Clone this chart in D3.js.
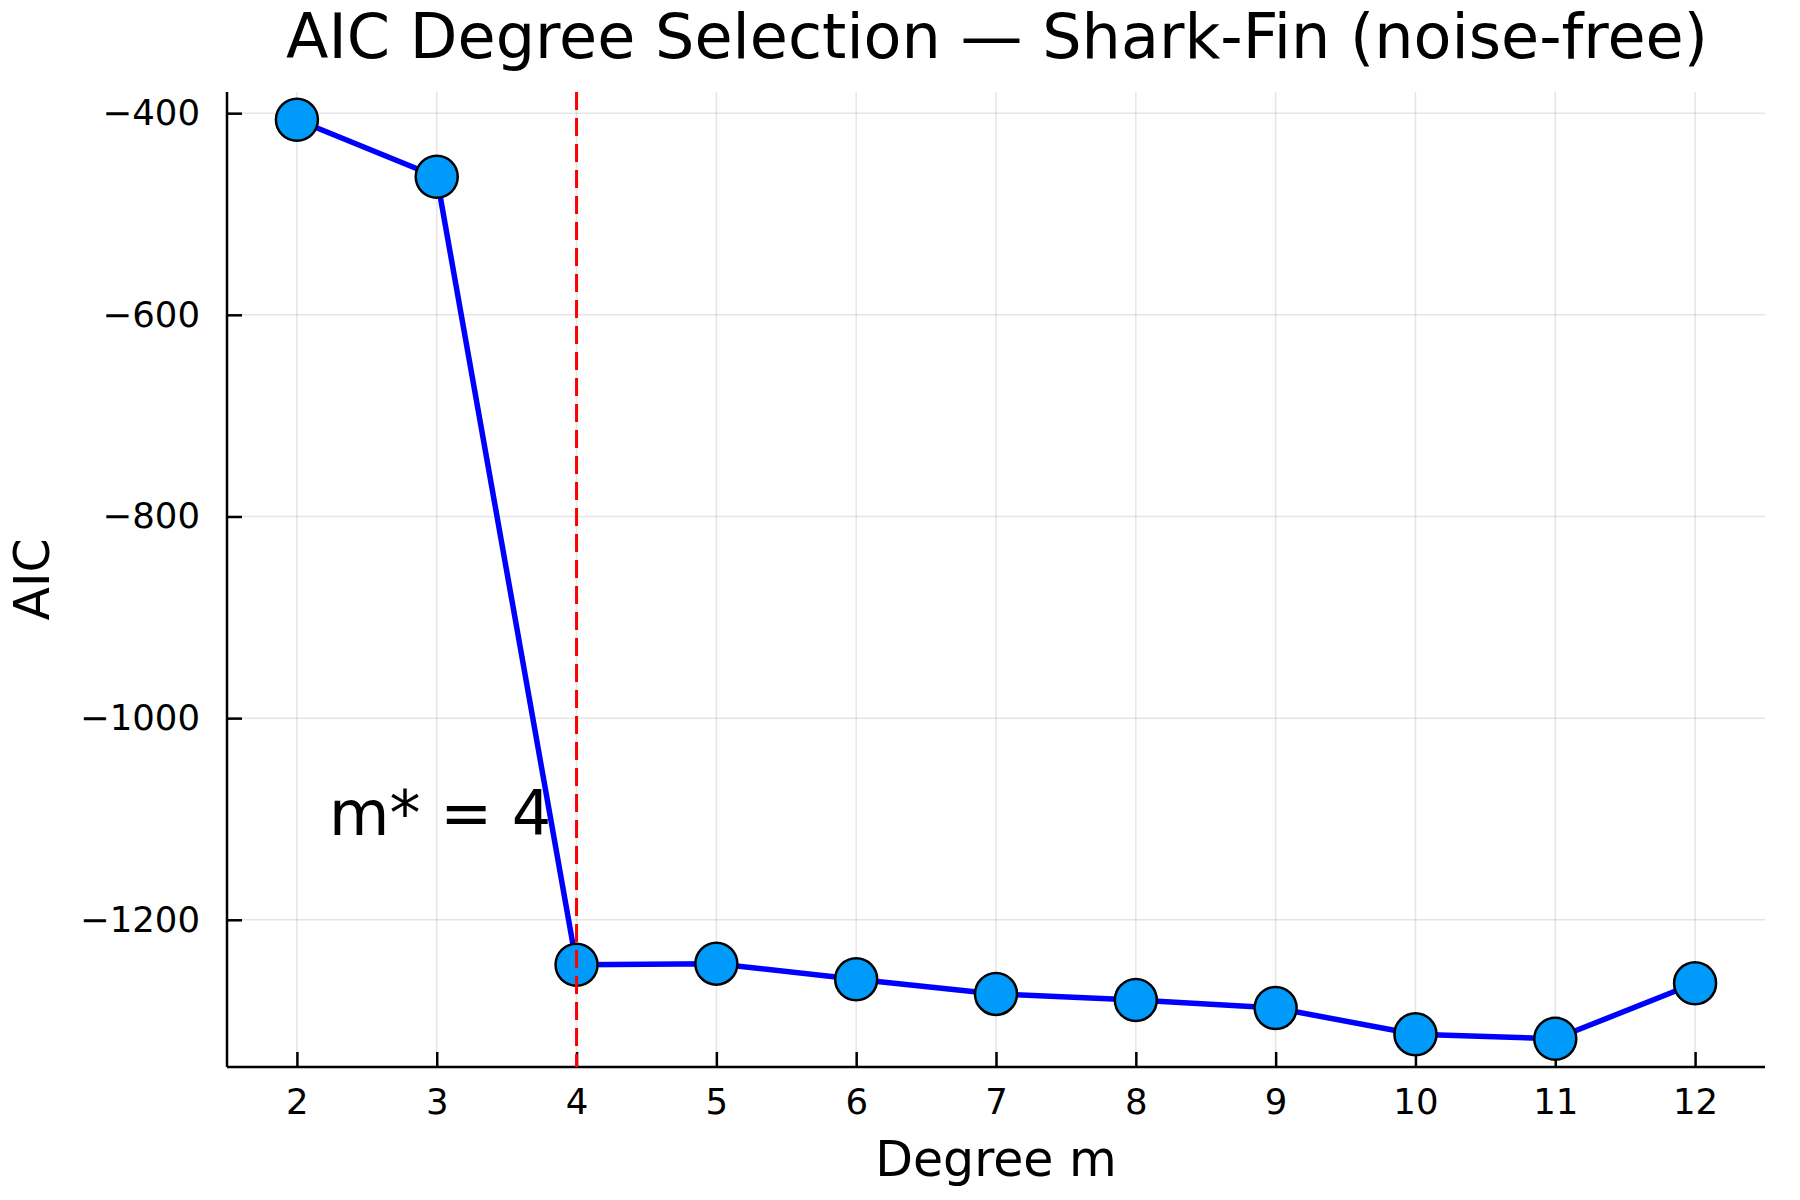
<!DOCTYPE html>
<html>
<head>
<meta charset="utf-8">
<script src="https://cdn.jsdelivr.net/npm/d3@7"></script>
<style>
  html, body { margin: 0; padding: 0; background: #fff; }
  svg { display: block; font-family: "DejaVu Sans", sans-serif; }
</style>
</head>
<body>
<svg id="chart" width="1800" height="1200"></svg>
<script>
const degrees = [2, 3, 4, 5, 6, 7, 8, 9, 10, 11, 12];
const aicValues = [-406.5, -463, -1244.5, -1243.5, -1259, -1273.5, -1279.5, -1287.5, -1313.5, -1318, -1263];
const xTicks = [2, 3, 4, 5, 6, 7, 8, 9, 10, 11, 12];
const yTicks = [-1200, -1000, -800, -600, -400];
const bestDegree = 4;
const annotation = { x: 3.025, y: -1095, text: "m* = 4" };
const titleText = "AIC Degree Selection — Shark-Fin (noise-free)";
const xLabel = "Degree m";
const yLabel = "AIC";

(function () {
const svg = d3.select("#chart");
const mLeft = 227, mRight = 1765, mTop = 92, mBottom = 1067;

const x = d3.scaleLinear().domain([1.5, 12.5]).range([mLeft, mRight]);
const y = d3.scaleLinear().domain([-1346, -379]).range([mBottom, mTop]);

const fmt = d => d < 0 ? "\u2212" + Math.abs(d) : String(d);

// grid
svg.append("g").selectAll("line").data(xTicks).join("line")
  .attr("x1", d => x(d)).attr("x2", d => x(d))
  .attr("y1", mTop).attr("y2", mBottom)
  .attr("stroke", "#000").attr("stroke-opacity", 0.1).attr("stroke-width", 1.5);
svg.append("g").selectAll("line").data(yTicks).join("line")
  .attr("x1", mLeft).attr("x2", mRight)
  .attr("y1", d => y(d)).attr("y2", d => y(d))
  .attr("stroke", "#000").attr("stroke-opacity", 0.1).attr("stroke-width", 1.5);

// axes
const xAxis = d3.axisBottom(x).tickValues(xTicks).tickSize(-15).tickPadding(22).tickFormat(fmt);
const gx = svg.append("g").attr("transform", `translate(0,${mBottom})`).call(xAxis);
gx.select(".domain").attr("d", `M${mLeft},0H${mRight}`).attr("stroke", "#000").attr("stroke-width", 2.5);
gx.selectAll(".tick line").attr("stroke", "#000").attr("stroke-width", 2.5);
gx.selectAll(".tick text").attr("font-size", 35.5).attr("font-family", "DejaVu Sans").attr("fill", "#000")
  .attr("dy", "0.71em");

const yAxis = d3.axisLeft(y).tickValues(yTicks).tickSize(-15).tickPadding(27).tickFormat(fmt);
const gy = svg.append("g").attr("transform", `translate(${mLeft},0)`).call(yAxis);
gy.select(".domain").attr("d", `M0,${mTop}V${mBottom}`).attr("stroke", "#000").attr("stroke-width", 2.5);
gy.selectAll(".tick line").attr("stroke", "#000").attr("stroke-width", 2.5);
gy.selectAll(".tick text").attr("font-size", 35.5).attr("font-family", "DejaVu Sans").attr("fill", "#000")
  .attr("x", -27);

// line
const pts = degrees.map((d, i) => [d, aicValues[i]]);
svg.append("path").datum(pts)
  .attr("fill", "none").attr("stroke", "#0000ff").attr("stroke-width", 5.5)
  .attr("stroke-linejoin", "round")
  .attr("d", d3.line().x(d => x(d[0])).y(d => y(d[1])));

// markers
svg.append("g").selectAll("circle").data(pts).join("circle")
  .attr("cx", d => x(d[0])).attr("cy", d => y(d[1])).attr("r", 21)
  .attr("fill", "#009AFA").attr("stroke", "#000").attr("stroke-width", 2.5);

// vertical dashed line
svg.append("line")
  .attr("x1", x(bestDegree)).attr("x2", x(bestDegree))
  .attr("y1", mTop).attr("y2", mBottom)
  .attr("stroke", "#ff0000").attr("stroke-width", 3).attr("stroke-dasharray", "18,8");

// annotation
svg.append("text")
  .attr("x", x(annotation.x)).attr("y", y(annotation.y))
  .attr("text-anchor", "middle").attr("dominant-baseline", "central")
  .attr("font-size", 62).attr("fill", "#000")
  .text(annotation.text);

// title
svg.append("text")
  .attr("x", (mLeft + mRight) / 2 + 1).attr("y", 58)
  .attr("text-anchor", "middle").attr("font-size", 62).attr("fill", "#000")
  .text(titleText);

// axis labels
svg.append("text")
  .attr("x", (mLeft + mRight) / 2).attr("y", 1176)
  .attr("text-anchor", "middle").attr("font-size", 49).attr("fill", "#000")
  .text(xLabel);
svg.append("text")
  .attr("transform", `translate(49,${(mTop + mBottom) / 2}) rotate(-90)`)
  .attr("text-anchor", "middle").attr("font-size", 49).attr("fill", "#000")
  .text(yLabel);
})();
</script>
</body>
</html>
